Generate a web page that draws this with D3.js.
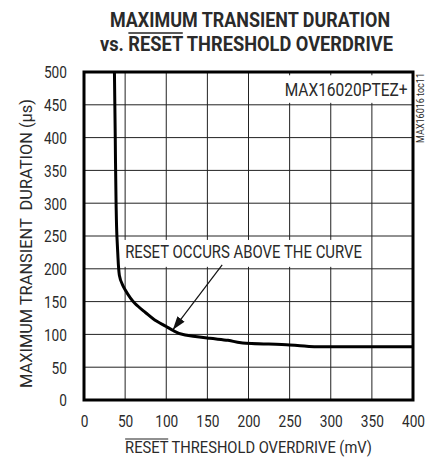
<!DOCTYPE html>
<html>
<head>
<meta charset="utf-8">
<script src="https://cdn.jsdelivr.net/npm/d3@7"></script>
<style>
  body { margin: 0; background: #fff; }
  text { font-family: Roboto, "Liberation Sans", sans-serif; fill: #2a2a2a; }
</style>
</head>
<body>
<div id="chart"></div>
<script>
// curve
var overdrive = [37, 38, 39, 40, 41, 43, 47, 50, 62, 75, 86, 100, 107, 123, 153, 175, 193, 250, 287, 320, 400];
var duration  = [500, 400, 300, 250, 225, 190, 175, 168, 147, 133, 122, 112, 107, 99, 94, 91, 87, 84, 81, 81, 81];

var xTicks = [0, 50, 100, 150, 200, 250, 300, 350, 400];
var yTicks = [0, 50, 100, 150, 200, 250, 300, 350, 400, 450, 500];

var W = 431, H = 458;
var margin = {top: 72, right: 18, bottom: 58, left: 84},
    width = W - margin.left - margin.right,
    height = H - margin.top - margin.bottom;

var svg = d3.select("#chart")
  .append("svg")
    .attr("width", W)
    .attr("height", H);

var g = svg.append("g")
    .attr("transform", "translate(" + margin.left + "," + margin.top + ")");

var x = d3.scaleLinear().domain([0, 400]).range([0, width]);
var y = d3.scaleLinear().domain([0, 500]).range([height, 0]);

// condensed label: the original face is narrow, so squeeze a normal one
// horizontally until it is w pixels wide
function label(parent, tx, ty, rot, w, size, str, anchor) {
  var outer = parent.append("g")
    .attr("transform", "translate(" + tx + "," + ty + ")" + (rot ? " rotate(" + rot + ")" : ""));
  var inner = outer.append("g");
  var t = inner.append("text")
    .attr("text-anchor", anchor || "middle")
    .style("font-size", size + "px")
    .style("white-space", "pre")
    .text(str);
  var s = w / t.node().getComputedTextLength();
  inner.attr("transform", "scale(" + s + ",1)");
  return {g: inner, t: t};
}

function overline(lab, word, rise, sw) {
  var node = lab.t.node();
  var i = node.textContent.indexOf(word);
  var s = node.getStartPositionOfChar(i);
  var e = node.getEndPositionOfChar(i + word.length - 1);
  lab.g.append("line")
    .attr("x1", s.x).attr("x2", e.x)
    .attr("y1", s.y - rise).attr("y2", s.y - rise)
    .attr("stroke", "#222").attr("stroke-width", sw)
    .attr("vector-effect", "non-scaling-stroke");
}

// grid
g.append("g")
  .selectAll("line")
  .data(xTicks.slice(1, -1))
  .enter().append("line")
    .attr("x1", d => x(d)).attr("x2", d => x(d))
    .attr("y1", 0).attr("y2", height)
    .attr("stroke", "#222").attr("stroke-width", 1);

g.append("g")
  .selectAll("line")
  .data(yTicks.slice(1, -1))
  .enter().append("line")
    .attr("y1", d => y(d)).attr("y2", d => y(d))
    .attr("x1", 0).attr("x2", width)
    .attr("stroke", "#222").attr("stroke-width", 1);

// axes (labels only), squeezed like the rest
var xAxis = g.append("g")
  .attr("transform", "translate(0," + height + ")")
  .call(d3.axisBottom(x).tickValues(xTicks).tickSize(0).tickPadding(15));
var yAxis = g.append("g")
  .call(d3.axisLeft(y).tickValues(yTicks).tickSize(0).tickPadding(17));
[xAxis, yAxis].forEach(function (a) {
  a.select(".domain").remove();
  a.selectAll("text")
    .style("font-size", "17px")
    .style("font-family", "Roboto, sans-serif")
    .attr("fill", "#2a2a2a")
    .each(function () {
      var t = d3.select(this);
      var s = t.text().length * 7.7 / this.getComputedTextLength();
      var x0 = +t.attr("x") || 0;
      t.attr("x", x0 / s).attr("transform", "scale(" + s + ",1)");
    });
});
yAxis.selectAll("text").attr("dy", "0.35em");

// white boxes for the annotations
g.append("rect")
  .attr("x", x(240)).attr("y", y(495))
  .attr("width", x(398) - x(240)).attr("height", y(453) - y(495))
  .attr("fill", "#fff");
label(g, x(244), y(463), 0, 123, 18, "MAX16020PTEZ+", "start");

g.append("rect")
  .attr("x", x(43)).attr("y", y(244))
  .attr("width", x(346) - x(43)).attr("height", y(203) - y(244))
  .attr("fill", "#fff");
label(g, x(50), y(217), 0, 237, 18, "RESET OCCURS ABOVE THE CURVE", "start");

// arrow
svg.append("defs").append("marker")
  .attr("id", "arrow")
  .attr("viewBox", "0 0 12 8")
  .attr("refX", 12).attr("refY", 4)
  .attr("markerWidth", 14).attr("markerHeight", 9)
  .attr("markerUnits", "userSpaceOnUse")
  .attr("orient", "auto")
  .append("path")
    .attr("d", "M0,0 L12,4 L0,8 Z")
    .attr("fill", "#111");

g.append("line")
  .attr("x1", x(168)).attr("y1", y(206))
  .attr("x2", x(108)).attr("y2", y(107))
  .attr("stroke", "#111").attr("stroke-width", 1.2)
  .attr("marker-end", "url(#arrow)");

// curve
var pts = overdrive.map(function (d, i) { return [d, duration[i]]; });
g.append("path")
  .datum(pts)
  .attr("fill", "none")
  .attr("stroke", "#000")
  .attr("stroke-width", 3)
  .attr("stroke-linejoin", "round")
  .attr("d", d3.line().x(d => x(d[0])).y(d => y(d[1])).curve(d3.curveMonotoneY));

// frame
g.append("rect")
  .attr("width", width).attr("height", height)
  .attr("fill", "none").attr("stroke", "#000").attr("stroke-width", 3);

// title
var t1 = label(svg, 250, 27, 0, 280, 21, "MAXIMUM TRANSIENT DURATION");
var t2 = label(svg, 246.5, 51, 0, 293, 21, "vs. RESET THRESHOLD OVERDRIVE");
[t1, t2].forEach(function (l) {
  l.t.style("font-weight", "bold").attr("fill", "#111");
});
// re-fit after switching to bold
[[t1, 280], [t2, 293]].forEach(function (p) {
  p[0].g.attr("transform", "scale(" + (p[1] / p[0].t.node().getComputedTextLength()) + ",1)");
});
overline(t2, "RESET", 18, 1.6);

// axis titles
var xt = label(svg, 248.5, 453, 0, 247, 17, "RESET THRESHOLD OVERDRIVE (mV)");
overline(xt, "RESET", 14, 1.2);

label(svg, 32, 243.5, -90, 289, 17, "MAXIMUM TRANSIENT  DURATION (\u00b5s)");
label(svg, 424, 108, -90, 70, 10, "MAX16016 toc11");
</script>
</body>
</html>
